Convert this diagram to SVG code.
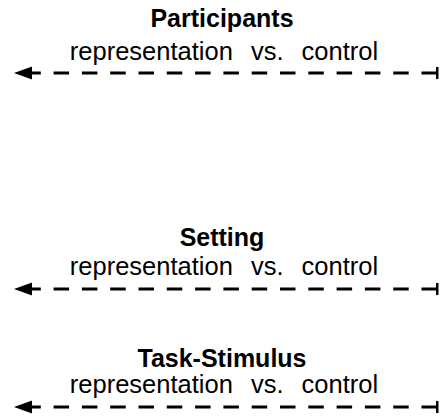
<svg xmlns="http://www.w3.org/2000/svg" width="441" height="417" viewBox="0 0 441 417">
<defs>
<style>
.title{font-family:"Liberation Sans",Arial,sans-serif;font-weight:bold;font-size:25px;fill:#000;text-anchor:middle}
.sub{font-family:"Liberation Sans",Arial,sans-serif;font-size:25.5px;fill:#000;text-anchor:middle;word-spacing:11px}
.dash{fill:none;stroke:#000;stroke-width:3.2;stroke-dasharray:15.5 12.8}
.head{fill:#000}
</style>
</defs>
<rect width="441" height="417" fill="#fff"/>
<g id="participants">
<text class="title" x="222" y="27">Participants</text>
<text class="sub" x="224" y="60">representation vs. control</text>
</g>
<g id="setting">
<text class="title" x="222" y="246">Setting</text>
<text class="sub" x="224" y="275">representation vs. control</text>
</g>
<g id="task-stimulus">
<text class="title" x="222" y="367">Task-Stimulus</text>
<text class="sub" x="224" y="393">representation vs. control</text>
</g>
<g id="connectors">
<path class="dash" d="M437,73 H26"/>
<polygon class="head" points="14,73 32,66.5 32,79.5"/>
<rect x="436" y="67" width="2.5" height="12"/>
<path class="dash" d="M437,289 H26"/>
<polygon class="head" points="14,289 32,282.5 32,295.5"/>
<rect x="436" y="283" width="2.5" height="12"/>
<path class="dash" d="M437,407 H26"/>
<polygon class="head" points="14,407 32,400.5 32,413.5"/>
<rect x="436" y="401" width="2.5" height="12"/>
</g>
</svg>
